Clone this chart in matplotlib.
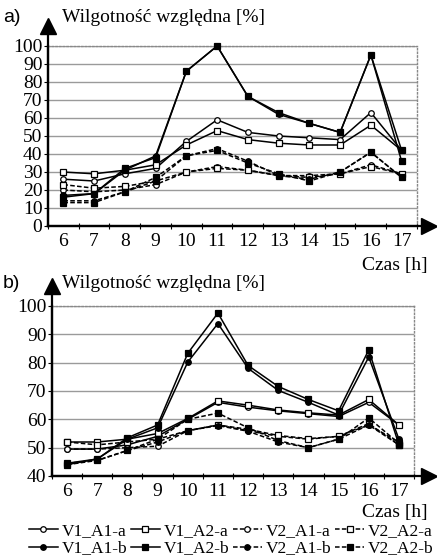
import numpy as np
import matplotlib
matplotlib.use('Agg')
import matplotlib.pyplot as plt
from matplotlib.lines import Line2D

plt.rcParams['font.family'] = ['Liberation Serif', 'DejaVu Serif']

hours = [6, 7, 8, 9, 10, 11, 12, 13, 14, 15, 16, 17]
series_names = ['V1_A1-a', 'V1_A2-a', 'V2_A1-a', 'V2_A2-a',
                'V1_A1-b', 'V1_A2-b', 'V2_A1-b', 'V2_A2-b']

# a) relative humidity [%]
a_v1_a1_a = [26, 25, 29, 32, 47, 59, 52, 50, 49, 48, 63, 42]
a_v1_a2_a = [30, 29, 31, 34, 45, 53, 48, 46, 45, 45, 56, 42]
a_v2_a1_a = [20, 19, 20, 23, 30, 33, 31, 28, 28, 29, 34, 29]
a_v2_a2_a = [23, 21, 22, 25, 30, 32, 31, 28, 27, 29, 33, 29]
a_v1_a1_b = [17, 18, 31, 39, 86, 100, 72, 62, 57, 52, 95, 42]
a_v1_a2_b = [16, 18, 32, 38, 86, 100, 72, 63, 57, 52, 95, 36]
a_v2_a1_b = [14, 14, 19, 25, 39, 43, 36, 28, 26, 30, 41, 27]
a_v2_a2_b = [13, 13, 19, 27, 39, 42, 35, 29, 25, 30, 41, 27]

# b) relative humidity [%]
b_v1_a1_a = [49.5, 49.5, 51, 54, 60, 66, 64.3, 63, 62, 61, 66, 58]
b_v1_a2_a = [52, 52, 53, 55, 60.3, 66.5, 65, 63.3, 62.3, 61.5, 67, 58]
b_v2_a1_a = [49.5, 49.5, 50, 50.5, 56, 58, 56, 54, 53, 54, 58, 52]
b_v2_a2_a = [52, 51, 52, 53, 56, 58, 56.5, 54.3, 53.2, 54, 58.5, 51]
b_v1_a1_b = [44, 46, 53, 57, 80.2, 93.8, 78, 70.2, 66, 61.5, 82, 53]
b_v1_a2_b = [44.5, 46, 53.5, 58, 83.3, 97.5, 79, 71.6, 67, 63, 84.5, 51]
b_v2_a1_b = [44.5, 45.5, 49, 52, 56, 57.8, 55.8, 52, 50, 53, 58, 51]
b_v2_a2_b = [44, 45.5, 49, 53, 60, 62.2, 57, 52.5, 50, 53, 60.5, 51.5]

a_data = [a_v1_a1_a, a_v1_a2_a, a_v2_a1_a, a_v2_a2_a,
          a_v1_a1_b, a_v1_a2_b, a_v2_a1_b, a_v2_a2_b]
b_data = [b_v1_a1_a, b_v1_a2_a, b_v2_a1_a, b_v2_a2_a,
          b_v1_a1_b, b_v1_a2_b, b_v2_a1_b, b_v2_a2_b]

# style per series: (linestyle, marker, filled)
styles = [('-', 'o', False), ('-', 's', False), ('--', 'o', False), ('--', 's', False),
          ('-', 'o', True), ('-', 's', True), ('--', 'o', True), ('--', 's', True)]

W, H = 437, 558
fig = plt.figure(figsize=(W/100, H/100), dpi=100)


def px_box(l, t, r, b):
    return [l/W, 1 - b/H, (r - l)/W, (b - t)/H]


def line_kw(ls, mk, filled):
    return dict(color='k', ls=ls, lw=1.1, marker=mk, ms=4,
                mfc='k' if filled else 'white', mec='k', mew=0.9,
                dashes=(3, 1.5) if ls == '--' else (None, None))


def draw_panel(ax, data, ymin, ymax):
    for vals, st in zip(data, styles):
        ax.plot(hours, vals, clip_on=False, zorder=3, **line_kw(*st))
    ax.set_xlim(5.5, 17.5)
    ax.set_ylim(ymin, ymax)
    ax.set_yticks(np.arange(ymin, ymax + 1, 10))
    ax.set_xticks(hours)
    ax.set_xticks(np.arange(5.5, 18, 1), minor=True)
    ax.tick_params(axis='x', which='major', length=0, labelsize=14, pad=5)
    ax.tick_params(axis='x', which='minor', length=5, direction='inout', width=0.8)
    ax.tick_params(axis='y', length=3, labelsize=14, pad=1, width=0.8)
    ax.grid(axis='y', color='#9a9a9a', lw=1.0)
    ax.set_axisbelow(True)
    for s in ['top', 'right']:
        ax.spines[s].set_color('#888888')
        ax.spines[s].set_linestyle(':')
        ax.spines[s].set_linewidth(1.0)
    for s in ['left', 'bottom']:
        ax.spines[s].set_linewidth(1.6)


def fig_line(xs, ys, **kw):
    # pixel coords, origin top-left
    fig.add_artist(Line2D([x/W for x in xs], [1 - y/H for y in ys],
                          transform=fig.transFigure, color='k', zorder=10, **kw))


def axis_arrows(x0, y0, ytip, xtip):
    fig_line([x0, x0], [y0, ytip], lw=1.6)
    fig_line([x0, xtip], [y0, y0], lw=1.6)
    fig_line([x0], [ytip], marker='^', ms=12, ls='none')
    fig_line([xtip], [y0], marker='>', ms=12, ls='none')


ax1 = fig.add_axes(px_box(48, 46, 417, 226))
draw_panel(ax1, a_data, 0, 100)
axis_arrows(48, 226, 26, 429)

ax2 = fig.add_axes(px_box(52, 306, 414, 476))
draw_panel(ax2, b_data, 40, 100)
axis_arrows(52, 476, 286, 429)


def ftext(x, y, s, **kw):
    fig.text(x/W, 1 - y/H, s, va='center', **kw)


ftext(3, 18, 'a)', family='Liberation Sans', fontsize=14)
ftext(62, 18, 'Wilgotność względna [%]', fontsize=14)
ftext(428, 266, 'Czas [h]', fontsize=14, ha='right')
ftext(3, 283, 'b)', family='Liberation Sans', fontsize=14)
ftext(62, 283, 'Wilgotność względna [%]', fontsize=14)
ftext(428, 513, 'Czas [h]', fontsize=14, ha='right')

handles = [Line2D([], [], **line_kw(*st)) for st in styles]
order = [0, 4, 1, 5, 2, 6, 3, 7]
fig.legend([handles[i] for i in order], [series_names[i] for i in order],
           loc='center', bbox_to_anchor=(231/W, 1 - 540/H), ncol=4, frameon=False,
           fontsize=12.5, handlelength=1.7, handletextpad=0.2, columnspacing=0.2,
           labelspacing=0.05, borderpad=0)

fig.savefig('out.png', dpi=100)
